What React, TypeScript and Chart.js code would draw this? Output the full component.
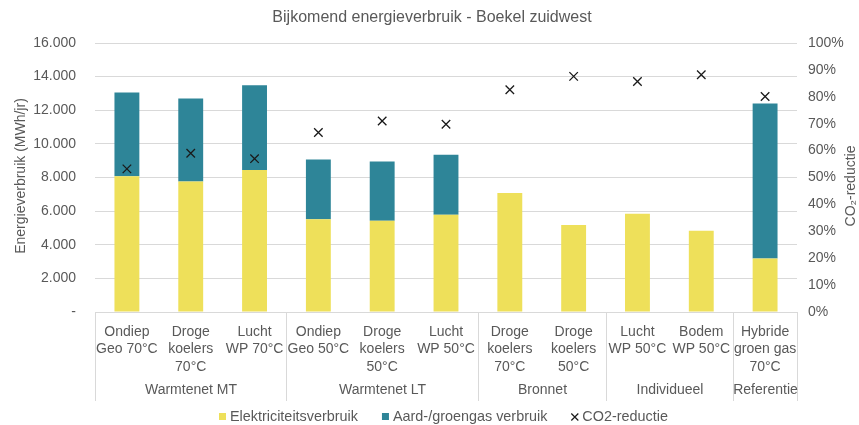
import React, { useEffect, useRef } from "react";
import { Chart, registerables } from "chart.js";

Chart.register(...registerables);

const categories: string[][] = [
  ["Ondiep", "Geo 70°C"],
  ["Droge", "koelers", "70°C"],
  ["Lucht", "WP 70°C"],
  ["Ondiep", "Geo 50°C"],
  ["Droge", "koelers", "50°C"],
  ["Lucht", "WP 50°C"],
  ["Droge", "koelers", "70°C"],
  ["Droge", "koelers", "50°C"],
  ["Lucht", "WP 50°C"],
  ["Bodem", "WP 50°C"],
  ["Hybride", "groen gas", "70°C"],
];
const groupNames = ["Warmtenet MT", "Warmtenet LT", "Bronnet", "Individueel", "Referentie"];
const groupSizes = [3, 3, 2, 2, 1];

const electricity = [8070, 7760, 8440, 5510, 5430, 5790, 7085, 5175, 5850, 4840, 3185];
const gas = [4990, 4940, 5050, 3565, 3525, 3565, 0, 0, 0, 0, 9215];
const co2Reduction = [53.2, 59.0, 57.0, 66.7, 71.0, 69.8, 82.6, 87.6, 85.7, 88.2, 80.1];

const seriesNames = ["Elektriciteitsverbruik", "Aard-/groengas verbruik", "CO2-reductie"];
const chartTitle = "Bijkomend energieverbruik - Boekel zuidwest";
const leftAxisTitle = "Energieverbruik (MWh/jr)";
const rightAxisTitle = "CO\u2082-reductie";

const FONT = "'Liberation Sans', Arial, sans-serif";
const TEXT = "#595959";
const GRID = "#D9D9D9";
const YELLOW = "#EEE05A";
const TEAL = "#2E8598";
const MARK = "#1A1A1A";

function fmtThousands(v: number): string {
  if (v === 0) return "-";
  return String(v).replace(/\B(?=(\d{3})+(?!\d))/g, ".");
}

const overlay = {
  id: "overlay",
  afterDraw(chart: any) {
    const { ctx, chartArea, scales } = chart;
    const x = scales.x;
    const step = x.getPixelForValue(1) - x.getPixelForValue(0);
    ctx.save();
    // group separators and labels
    ctx.strokeStyle = GRID;
    ctx.lineWidth = 1;
    ctx.fillStyle = TEXT;
    ctx.font = `14px ${FONT}`;
    ctx.textAlign = "center";
    ctx.textBaseline = "middle";
    let idx = 0;
    const edge = (i: number) => Math.round(x.getPixelForValue(i) - step / 2) + 0.5;
    const drawSep = (px: number) => {
      ctx.beginPath();
      ctx.moveTo(px, chartArea.bottom);
      ctx.lineTo(px, 401);
      ctx.stroke();
    };
    drawSep(edge(0));
    groupSizes.forEach((size, g) => {
      const a = edge(idx);
      const b = edge(idx + size);
      drawSep(b);
      ctx.fillText(groupNames[g], (a + b) / 2, 390);
      idx += size;
    });

    // title
    ctx.font = `16px ${FONT}`;
    ctx.fillText(chartTitle, 432, 18);

    // axis titles
    ctx.font = `14px ${FONT}`;
    ctx.save();
    ctx.translate(21, 176);
    ctx.rotate(-Math.PI / 2);
    ctx.fillText(leftAxisTitle, 0, 0);
    ctx.restore();
    ctx.save();
    ctx.translate(851, 186);
    ctx.rotate(-Math.PI / 2);
    ctx.fillText(rightAxisTitle, 0, 0);
    ctx.restore();

    // legend
    ctx.font = `14.4px ${FONT}`;
    const ly = 417;
    const gap = 24;
    const mk = 7;
    const w = seriesNames.map((s) => ctx.measureText(s).width);
    let lx = 219;
    ctx.textAlign = "left";
    seriesNames.forEach((name, i) => {
      if (i < 2) {
        ctx.fillStyle = i === 0 ? YELLOW : TEAL;
        ctx.fillRect(lx, ly - 4, mk, mk);
      } else {
        ctx.strokeStyle = MARK;
        ctx.lineWidth = 1.2;
        ctx.beginPath();
        ctx.moveTo(lx, ly - 3.5);
        ctx.lineTo(lx + mk, ly + 3.5);
        ctx.moveTo(lx + mk, ly - 3.5);
        ctx.lineTo(lx, ly + 3.5);
        ctx.stroke();
      }
      ctx.fillStyle = TEXT;
      ctx.fillText(name, lx + mk + 4, ly);
      lx += mk + 4 + w[i] + gap;
    });
    ctx.restore();
  },
};

export default function App() {
  const ref = useRef<HTMLCanvasElement | null>(null);
  useEffect(() => {
    if (!ref.current) return;
    Chart.defaults.font.family = FONT;
    Chart.defaults.color = TEXT;
    const chart = new Chart(ref.current, {
      type: "bar",
      data: {
        labels: categories,
        datasets: [
          {
            type: "line",
            label: seriesNames[2],
            data: co2Reduction,
            yAxisID: "y1",
            showLine: false,
            pointStyle: "crossRot",
            pointRadius: 6,
            pointBorderWidth: 1.3,
            borderColor: MARK,
            backgroundColor: MARK,
            order: 0,
          } as any,
          {
            label: seriesNames[0],
            data: electricity,
            backgroundColor: YELLOW,
            yAxisID: "y",
            barPercentage: 0.39,
            categoryPercentage: 1,
            order: 1,
          },
          {
            label: seriesNames[1],
            data: gas,
            backgroundColor: TEAL,
            yAxisID: "y",
            barPercentage: 0.39,
            categoryPercentage: 1,
            order: 1,
          },
        ],
      },
      options: {
        animation: false,
        responsive: false,
        maintainAspectRatio: false,
        layout: { padding: { top: 43, left: 0, right: 0, bottom: 0 } },
        plugins: {
          legend: { display: false },
          title: { display: false },
          tooltip: { enabled: false },
        },
        scales: {
          x: {
            stacked: true,
            offset: true,
            grid: { display: false, drawTicks: false },
            border: { display: false },
            ticks: {
              autoSkip: false,
              maxRotation: 0,
              minRotation: 0,
              padding: 11,
              color: TEXT,
              font: { size: 14, lineHeight: 1.25 },
            },
            afterFit(scale: any) {
              scale.height = 113;
            },
          },
          y: {
            stacked: true,
            position: "left",
            min: 0,
            max: 16000,
            grid: { color: GRID, drawTicks: false },
            border: { display: false },
            ticks: {
              stepSize: 2000,
              padding: 19,
              color: TEXT,
              font: { size: 14 },
              callback: (v: any) => fmtThousands(Number(v)),
            },
            afterFit(scale: any) {
              scale.width = 95;
            },
          },
          y1: {
            position: "right",
            min: 0,
            max: 100,
            grid: { display: false, drawTicks: false },
            border: { display: false },
            ticks: {
              stepSize: 10,
              padding: 11,
              color: TEXT,
              font: { size: 14 },
              callback: (v: any) => `${v}%`,
            },
            afterFit(scale: any) {
              scale.width = 62;
            },
          },
        },
      } as any,
      plugins: [overlay],
    });
    return () => chart.destroy();
  }, []);
  return (
    <div style={{ position: "fixed", left: 0, top: 0, width: 859, height: 425, background: "#fff" }}>
      <canvas ref={ref} width={859} height={425} style={{ width: 859, height: 425, display: "block" }} />
    </div>
  );
}
